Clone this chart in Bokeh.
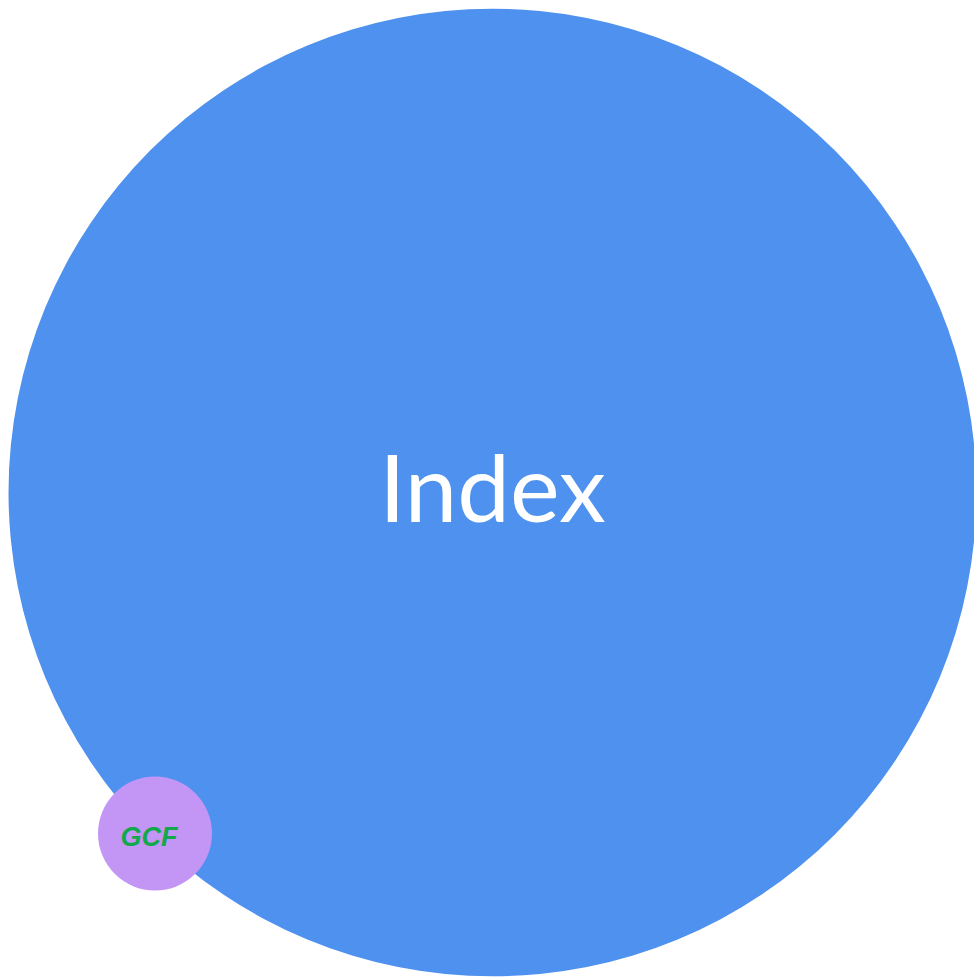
from bokeh.plotting import figure
from bokeh.models import Range1d, ColumnDataSource
from bokeh.core.properties import value
from bokeh.embed import file_html
from bokeh.resources import INLINE

# Circle-packing data (data units = pixels of the chart area)
names = ["Index", "GCF"]
cx = [484, 146.5]
cy = [484, 825]
radii = [484, 57]
fills = ["#4F91EF", "#C396F6"]

W, H = 974, 978
OFF = 8
p = figure(width=W, height=H, output_backend="svg", toolbar_location=None,
           x_range=Range1d(-OFF, W - OFF), y_range=Range1d(H - OFF, -OFF),
           min_border=0, min_border_left=0, min_border_right=0,
           min_border_top=0, min_border_bottom=0)
p.axis.visible = False
p.grid.visible = False
p.outline_line_color = None
p.background_fill_color = "white"

src = ColumnDataSource(dict(x=cx, y=cy, r=radii, c=fills, name=names))
p.circle(x="x", y="y", radius="r", fill_color="c", line_color=None, source=src)

p.text(x=[cx[0]], y=[cy[0] - 7], text=[names[0]], text_color="white",
       text_font=value("Lato"), text_font_size="94px",
       text_align="center", text_baseline="alphabetic")

p.text(x=[cx[1] - 6], y=[cy[1] + 3], text=[names[1]], text_color="#12A84B",
       text_font=value("Liberation Sans"), text_font_size="27px",
       text_font_style="bold italic",
       text_align="center", text_baseline="middle")

open("out.html", "w").write(file_html(p, INLINE))
